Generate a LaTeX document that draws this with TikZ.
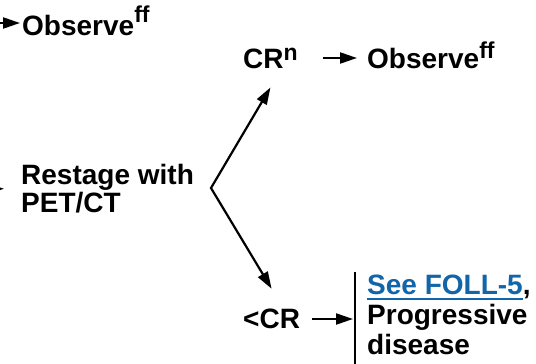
\documentclass[tikz,border=0pt]{standalone}
\usepackage{fontspec}
\setmainfont{Liberation Sans}
\usetikzlibrary{arrows.meta}
\definecolor{linkblue}{RGB}{17,101,168}
\newcommand\supx[2][10pt]{\raisebox{#1}{\fontsize{23}{23}\selectfont #2}}
\newcommand\ulx[1]{\setbox0\hbox{#1}\rlap{\rule[-5pt]{\wd0}{2pt}}\box0}
\begin{document}
\begin{tikzpicture}[x=1pt,y=-1pt,
  txt/.style={inner sep=0pt,font=\fontsize{28}{28}\selectfont\bfseries},
  tip/.tip={Triangle[length=17pt,width=11pt]},
  arr/.style={line width=2.2pt,-tip},
  barline/.style={line width=2.2pt}]
\useasboundingbox (0,0) rectangle (536,364);
\clip (0,0) rectangle (536,364);
% nodes
\node[txt,anchor=base west] (obs1) at (22,35) {Observe\supx[13pt]{ff}};
\node[txt,anchor=north west,align=left] (rst) at (21,164) {Restage with\\PET/CT};
\node[txt,anchor=base west] (crn) at (243,68) {CR\supx[8pt]{n}};
\node[txt,anchor=base west] (obs2) at (367,68) {Observe\supx[10pt]{ff}};
\node[txt,anchor=base west] (lcr) at (243,328) {<CR};
\node[txt,font=\fontsize{28}{30}\selectfont\bfseries,anchor=north west,align=left] (res) at (367,275)
  {\textcolor{linkblue}{\ulx{See FOLL-5}},\\Progressive\\disease};
% free ends
\coordinate (inA) at (-40,23);
\coordinate (inB) at (-40,189);
\coordinate (fork) at (211,188);
% connectors
\draw[arr,shorten >=2pt] (inA) -- ([yshift=12pt]obs1.base west);
\draw[arr,shorten >=17pt] (inB) -- (rst.west);
\draw[line width=2.2pt,tip-tip]
  ([yshift=-19pt]crn.south) -- (fork) -- ([yshift=19.5pt]lcr.north);
\draw[arr,shorten <=25pt,shorten >=10pt] ([yshift=10pt]crn.base east) -- ([yshift=10pt]obs2.base west);
\draw[arr,shorten <=12pt,shorten >=14pt] ([yshift=9pt]lcr.base east) -- ([yshift=9pt]lcr.base east -| res.west);
\draw[barline] ([xshift=-12pt,yshift=3pt]res.north west) -- ([xshift=-12pt,yshift=-20pt]res.south west);
\end{tikzpicture}
\end{document}
